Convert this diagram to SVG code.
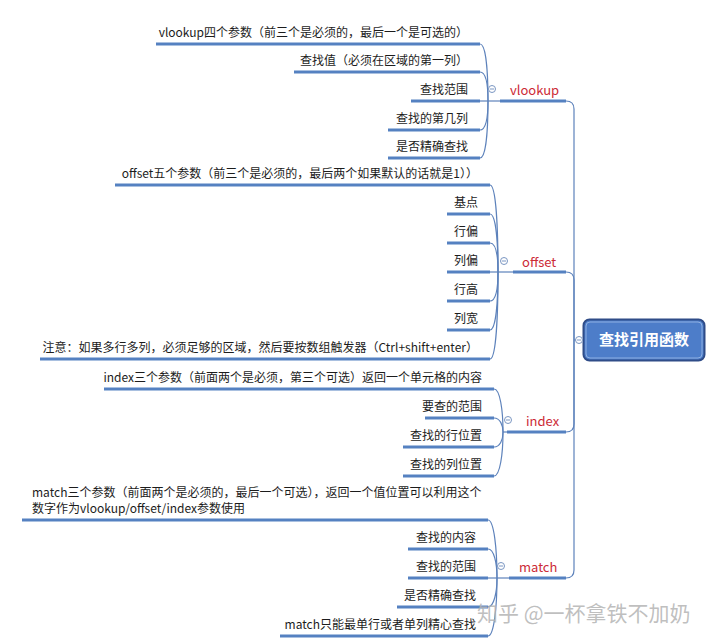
<svg xmlns="http://www.w3.org/2000/svg" width="711" height="642" viewBox="0 0 711 642">
<style>
.ul{stroke:#5581c1;stroke-width:3;fill:none;stroke-linecap:butt}
.cn{stroke:#5d82bb;stroke-width:1.2;fill:none}
.t{font-family:"Noto Sans CJK SC","Microsoft YaHei",sans-serif;font-size:12px;fill:#1c1c1c}
.te{text-anchor:end}
.br{font-family:"Noto Sans CJK SC",sans-serif;font-size:13px;fill:#cc2a36}
.cc{fill:#fff;stroke:#7a96c2;stroke-width:1}
.cm{stroke:#7a96c2;stroke-width:1}
</style>
<rect width="711" height="642" fill="#fff"/>
<g id="connectors">
<path class="cn" d="M574,340 V109 Q574,101 566,101"/>
<path class="cn" d="M574,340 V280 Q574,272 566,272"/>
<path class="cn" d="M574,340 V424 Q574,432 566,432"/>
<path class="cn" d="M574,340 V570 Q574,578 566,578"/>
<path class="cn" d="M574,340 H576"/>
<!-- vlookup children -->
<path class="cn" d="M480,44 C486,44 488,72 488,101"/>
<path class="cn" d="M480,72 C486,72 488,86 488,101"/>
<path class="cn" d="M480,101 H500"/>
<path class="cn" d="M480,130 C486,130 488,116 488,101"/>
<path class="cn" d="M480,158 C486,158 488,130 488,101"/>
<!-- offset children -->
<path class="cn" d="M490,185 C496,185 498,228 498,272"/>
<path class="cn" d="M490,214 C496,214 498,243 498,272"/>
<path class="cn" d="M490,243 C496,243 498,257 498,272"/>
<path class="cn" d="M490,272 H513"/>
<path class="cn" d="M490,301 C496,301 498,287 498,272"/>
<path class="cn" d="M490,330 C496,330 498,301 498,272"/>
<path class="cn" d="M490,359 C496,359 498,316 498,272"/>
<!-- index children -->
<path class="cn" d="M494,389 C500,389 503,410 503,432"/>
<path class="cn" d="M494,418 C500,418 503,425 503,432"/>
<path class="cn" d="M494,447 C500,447 503,440 503,432"/>
<path class="cn" d="M494,476 C500,476 503,454 503,432"/>
<path class="cn" d="M503,432 H508"/>
<!-- match children -->
<path class="cn" d="M488,520 C494,520 497,549 497,578"/>
<path class="cn" d="M488,549 C494,549 497,563 497,578"/>
<path class="cn" d="M488,578 H509"/>
<path class="cn" d="M488,607 C494,607 497,592 497,578"/>
<path class="cn" d="M488,636 C494,636 497,607 497,578"/>
</g>
<g id="central">
<rect x="583.5" y="319.5" width="121" height="41" rx="6" fill="#4d7dc9" stroke="#2f4c88" stroke-width="2"/>
<rect x="586" y="322" width="116" height="36" rx="4" fill="none" stroke="#8fb0e2" stroke-width="1"/>
<text x="644" y="345" text-anchor="middle" font-family="Noto Sans CJK SC,sans-serif" font-size="15" font-weight="bold" fill="#fff">查找引用函数</text>
<circle class="cc" cx="579" cy="340" r="3.5"/><path class="cm" d="M577,340 H581"/>
</g>
<g id="vlookup">
<path class="ul" d="M500,101 H566"/>
<text class="br" x="510" y="95">vlookup</text>
<circle class="cc" cx="492" cy="89" r="3.5"/><path class="cm" d="M490,89 H494"/>
</g>
<g id="vlookup-c1"><path class="ul" d="M156,44 H480"/><text class="t te" x="468" y="37">vlookup四个参数（前三个是必须的，最后一个是可选的）</text></g>
<g id="vlookup-c2"><path class="ul" d="M294,72 H480"/><text class="t te" x="468" y="65">查找值（必须在区域的第一列）</text></g>
<g id="vlookup-c3"><path class="ul" d="M411,101 H480"/><text class="t te" x="468" y="94">查找范围</text></g>
<g id="vlookup-c4"><path class="ul" d="M388,130 H480"/><text class="t te" x="468" y="123">查找的第几列</text></g>
<g id="vlookup-c5"><path class="ul" d="M388,158 H480"/><text class="t te" x="468" y="151">是否精确查找</text></g>
<g id="offset">
<path class="ul" d="M513,272 H566"/>
<text class="br" x="522" y="267">offset</text>
<circle class="cc" cx="504" cy="261" r="3.5"/><path class="cm" d="M502,261 H506"/>
</g>
<g id="offset-c1"><path class="ul" d="M115,185 H490"/><text class="t te" x="478" y="178">offset五个参数（前三个是必须的，最后两个如果默认的话就是1））</text></g>
<g id="offset-c2"><path class="ul" d="M447,214 H490"/><text class="t te" x="478" y="207">基点</text></g>
<g id="offset-c3"><path class="ul" d="M447,243 H490"/><text class="t te" x="478" y="236">行偏</text></g>
<g id="offset-c4"><path class="ul" d="M447,272 H490"/><text class="t te" x="478" y="265">列偏</text></g>
<g id="offset-c5"><path class="ul" d="M447,301 H490"/><text class="t te" x="478" y="294">行高</text></g>
<g id="offset-c6"><path class="ul" d="M447,330 H490"/><text class="t te" x="478" y="323">列宽</text></g>
<g id="offset-c7"><path class="ul" d="M40,359 H490"/><text class="t te" x="478" y="352">注意：如果多行多列，必须足够的区域，然后要按数组触发器（Ctrl+shift+enter）</text></g>
<g id="index">
<path class="ul" d="M507,432 H566"/>
<text class="br" x="526" y="426">index</text>
<circle class="cc" cx="508" cy="420" r="3.5"/><path class="cm" d="M506,420 H510"/>
</g>
<g id="index-c1"><path class="ul" d="M104,389 H494"/><text class="t te" x="482" y="382">index三个参数（前面两个是必须，第三个可选）返回一个单元格的内容</text></g>
<g id="index-c2"><path class="ul" d="M425,418 H494"/><text class="t te" x="482" y="411">要查的范围</text></g>
<g id="index-c3"><path class="ul" d="M403,447 H494"/><text class="t te" x="482" y="440">查找的行位置</text></g>
<g id="index-c4"><path class="ul" d="M403,476 H494"/><text class="t te" x="482" y="469">查找的列位置</text></g>
<g id="match">
<path class="ul" d="M509,578 H566"/>
<text class="br" x="519" y="572">match</text>
<circle class="cc" cx="501" cy="566" r="3.5"/><path class="cm" d="M499,566 H503"/>
</g>
<g id="match-c1"><path class="ul" d="M22,520 H488"/><text class="t" x="32" y="497">match三个参数（前面两个是必须的，最后一个可选），返回一个值位置可以利用这个</text><text class="t" x="32" y="513">数字作为vlookup/offset/index参数使用</text></g>
<g id="match-c2"><path class="ul" d="M408,549 H488"/><text class="t te" x="476" y="542">查找的内容</text></g>
<g id="match-c3"><path class="ul" d="M408,578 H488"/><text class="t te" x="476" y="571">查找的范围</text></g>
<g id="match-c4"><path class="ul" d="M397,607 H488"/><text class="t te" x="476" y="600">是否精确查找</text></g>
<g id="match-c5"><path class="ul" d="M280,636 H488"/><text class="t te" x="476" y="629">match只能最单行或者单列精心查找</text></g>
<text x="477" y="621" font-family="Noto Sans CJK SC,sans-serif" font-size="21" fill="#b4b4b4" fill-opacity="0.85">知乎 @一杯拿铁不加奶</text>
</svg>
